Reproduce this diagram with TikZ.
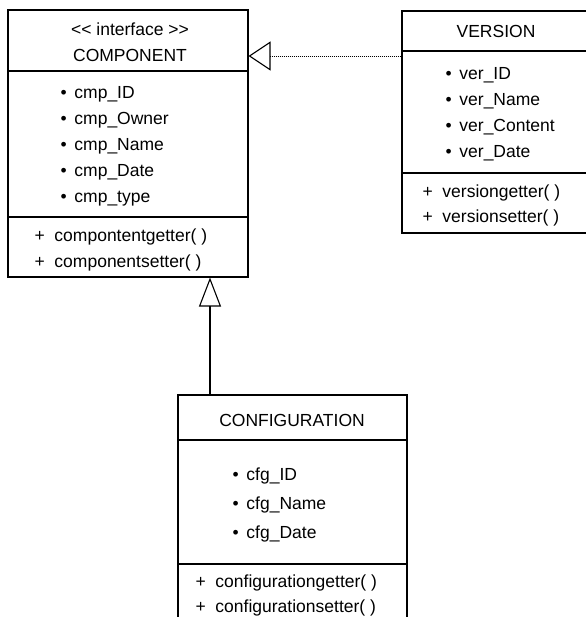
\documentclass[tikz,border=0pt]{standalone}
\usepackage{fontspec}
\setmainfont{Liberation Sans}
\usetikzlibrary{arrows.meta}

\tikzset{
  umlbox/.style={draw, inner sep=0pt},
  umltxt/.style={inner sep=0pt, text height=12pt, text depth=0pt, font=\fontsize{17.5}{20}\selectfont},
  member/.style={umltxt, anchor=west},
}

\begin{document}
\begin{tikzpicture}[x=1pt,y=-1pt,line width=1.1pt]
			\useasboundingbox (0,0) rectangle (585,617);

			% COMPONENT CLASS
			\node[umlbox, minimum width=240, minimum height=267] (cmp) at (128,143.5) {};
			\draw (8,71) -- (248,71);
			\draw (8,217) -- (248,217);
			\node[umltxt] (cmpst) at (130,29.5) {<\kern0pt< interface >\kern0pt>};
			\node[umltxt] (cmpname) at (130,56) {COMPONENT};
			\path (60,92.5) node[member] (cmpa1) {•\ \,cmp\_ID} ++(0,26) node[member] (cmpa2) {•\ \,cmp\_Owner}
									 ++(0,26) node[member] (cmpa3) {•\ \,cmp\_Name} ++(0,26) node[member] (cmpa4) {•\ \,cmp\_Date}
									 ++(0,26) node[member] (cmpa5) {•\ \,cmp\_type};
			\path (34,235) node[member] (cmpm1) {+ \ compontentgetter( )} ++(0,26) node[member] (cmpm2) {+ \ componentsetter( )};

			% VERSION CLASS
			\node[umlbox, minimum width=210, minimum height=222] (ver) at (507,122) {};
			\draw (402,51) -- (612,51);
			\draw (402,173) -- (612,173);
			\node[umltxt] (vername) at (496,32) {VERSION};
			\path (445,73.5) node[member] (vera1) {•\ \,ver\_ID} ++(0,26) node[member] (vera2) {•\ \,ver\_Name}
									 ++(0,26) node[member] (vera3) {•\ \,ver\_Content} ++(0,26) node[member] (vera4) {•\ \,ver\_Date};
			\path (422,192) node[member] (verm1) {+ \ versiongetter( )} ++(0,24.5) node[member] (verm2) {+ \ versionsetter( )};

			% CONFIGURATION CLASS
			\node[umlbox, minimum width=229, minimum height=235] (cfg) at (292.5,512.5) {};
			\draw (178,440) -- (407,440);
			\draw (178,564) -- (407,564);
			\node[umltxt] (cfgname) at (292,420) {CONFIGURATION};
			\path (232,474) node[member] (cfga1) {•\ \,cfg\_ID} ++(0,29) node[member] (cfga2) {•\ \,cfg\_Name}
									 ++(0,29) node[member] (cfga3) {•\ \,cfg\_Date};
			\path (195,581) node[member] (cfgm1) {+ \ configurationgetter( )} ++(0,25) node[member] (cfgm2) {+ \ configurationsetter( )};

			% REALIZATION AND GENERALIZATION
			\draw [line width=.8pt, dash pattern=on 1pt off 1pt, -{Triangle[open, length=22pt, width=29pt, line width=1.1pt]}] (ver.west |- cmpname) -- (cmp.east |- cmpname);
			\coordinate (gen) at (210,395);
			\draw [line width=2pt, -{Triangle[open, length=29pt, width=22pt, line width=1.1pt]}] (cfg.north -| gen) -- (cmp.south -| gen);
		\end{tikzpicture}
\end{document}
